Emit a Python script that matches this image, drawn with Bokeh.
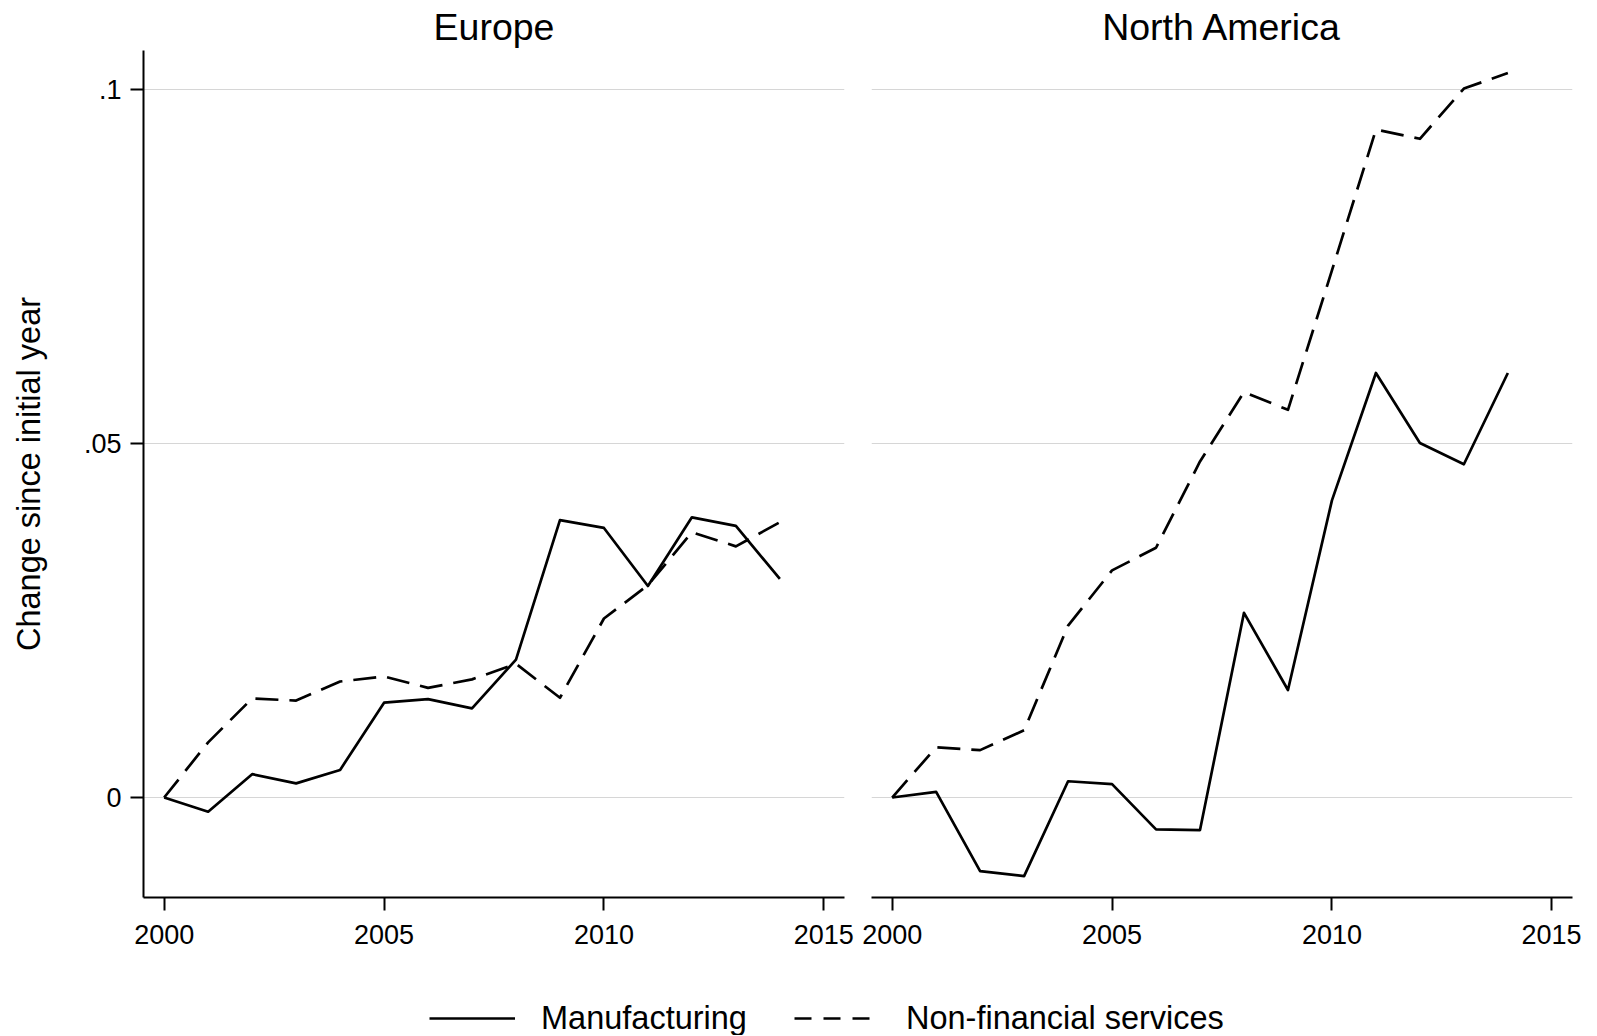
from bokeh.plotting import figure
from bokeh.models import Range1d, FixedTicker, Grid, Legend, LegendItem
from bokeh.layouts import column, row
from bokeh.embed import file_html
from bokeh.resources import INLINE

FONT = "Liberation Sans"

# ---- data ----
years = [2000, 2001, 2002, 2003, 2004, 2005, 2006, 2007,
         2008, 2009, 2010, 2011, 2012, 2013, 2014]

europe_manufacturing = [0.0, -0.0020, 0.0033, 0.0020, 0.0039, 0.0134, 0.0139, 0.0126,
                        0.0195, 0.0392, 0.0381, 0.0299, 0.0396, 0.0384, 0.0309]
europe_services = [0.0, 0.0078, 0.0140, 0.0137, 0.0164, 0.0171, 0.0155, 0.0167,
                   0.0189, 0.0141, 0.0253, 0.0300, 0.0375, 0.0355, 0.0389]
namerica_manufacturing = [0.0, 0.0008, -0.0104, -0.0111, 0.0023, 0.0019, -0.0045, -0.0046,
                          0.0261, 0.0152, 0.0420, 0.0600, 0.0501, 0.0471, 0.0600]
namerica_services = [0.0, 0.0071, 0.0067, 0.0095, 0.0243, 0.0321, 0.0353, 0.0475,
                     0.0573, 0.0548, 0.0745, 0.0944, 0.0931, 0.1002, 0.1024]

panel_titles = ["Europe", "North America"]
series_labels = ["Manufacturing", "Non-financial services"]
x_ticks = [2000, 2005, 2010, 2015]
y_ticks = [0, 0.05, 0.1]
y_tick_labels = ["0", ".05", ".1"]
y_axis_label = "Change since initial year"

X_RANGE = (1999.53, 2015.47)
Y_RANGE = (-0.01413, 0.10558)

LINE_W = 2.7
DASH = "23 11"
GRID_COLOR = "#d6d6d6"
AXIS_W = 2


def make_panel(title, manuf, serv, first):
    kw = dict(
        height=960,
        x_range=Range1d(*X_RANGE),
        y_range=Range1d(*Y_RANGE),
        output_backend="svg",
        toolbar_location=None,
        title=title,
        min_border_top=50,
        min_border_bottom=63,
    )
    if first:
        p = figure(width=857, min_border_left=143, min_border_right=13, **kw)
    else:
        p = figure(width=724, min_border_left=14, min_border_right=9,
                   y_axis_location=None, **kw)

    p.outline_line_color = None
    p.background_fill_color = "white"
    p.border_fill_color = "white"

    for g in p.grid:
        g.visible = False
    p.add_layout(Grid(dimension=1, ticker=FixedTicker(ticks=y_ticks),
                      grid_line_color=GRID_COLOR, grid_line_width=1), "center")

    # title
    p.title.align = "center"
    p.title.text_font = FONT
    p.title.text_font_size = "37.5px"
    p.title.text_font_style = "normal"
    p.title.text_color = "black"
    p.title.standoff = 5

    # x axis
    xa = p.xaxis[0]
    xa.ticker = FixedTicker(ticks=x_ticks)
    xa.axis_line_color = "black"
    xa.axis_line_width = AXIS_W
    xa.major_tick_line_color = "black"
    xa.major_tick_line_width = AXIS_W
    xa.major_tick_out = 13
    xa.major_tick_in = 0
    xa.minor_tick_out = 0
    xa.minor_tick_in = 0
    xa.major_label_text_font = FONT
    xa.major_label_text_font_size = "27px"
    xa.major_label_text_color = "black"
    xa.major_label_standoff = 14

    if first:
        ya = p.yaxis[0]
        ya.ticker = FixedTicker(ticks=y_ticks)
        ya.major_label_overrides = {t: lab for t, lab in zip(y_ticks, y_tick_labels)}
        ya.axis_line_color = "black"
        ya.axis_line_width = AXIS_W
        ya.major_tick_line_color = "black"
        ya.major_tick_line_width = AXIS_W
        ya.major_tick_out = 13
        ya.major_tick_in = 0
        ya.minor_tick_out = 0
        ya.minor_tick_in = 0
        ya.major_label_text_font = FONT
        ya.major_label_text_font_size = "27px"
        ya.major_label_text_color = "black"
        ya.major_label_standoff = 9
        ya.axis_label = y_axis_label
        ya.axis_label_text_font = FONT
        ya.axis_label_text_font_size = "32.5px"
        ya.axis_label_text_font_style = "normal"
        ya.axis_label_text_color = "black"
        ya.axis_label_standoff = 34

    p.line(years, manuf, line_color="black", line_width=LINE_W, line_join="round")
    p.line(years, serv, line_color="black", line_width=LINE_W, line_dash=DASH,
           line_join="round")
    return p


p1 = make_panel(panel_titles[0], europe_manufacturing, europe_services, True)
p2 = make_panel(panel_titles[1], namerica_manufacturing, namerica_services, False)

# ---- legend strip ----
pleg = figure(width=1581, height=75, output_backend="svg", toolbar_location=None,
              x_range=Range1d(0, 1), y_range=Range1d(0, 1),
              x_axis_location=None, y_axis_location=None,
              min_border=0)
pleg.outline_line_color = None
for g in pleg.grid:
    g.visible = False
# legend-only key renderers, placed outside the visible range
r_solid = pleg.line([5, 6], [5, 6], line_color="black", line_width=LINE_W)
r_dash = pleg.line([5, 6], [5, 6], line_color="black", line_width=LINE_W,
                   line_dash="17 12")
legend = Legend(
    items=[LegendItem(label=series_labels[0], renderers=[r_solid]),
           LegendItem(label=series_labels[1], renderers=[r_dash])],
    orientation="horizontal",
    location=(429, -2),
    glyph_width=86,
    glyph_height=38,
    label_standoff=26,
    spacing=47,
    padding=0,
    margin=0,
    border_line_color=None,
    background_fill_alpha=0,
    label_text_font=FONT,
    label_text_font_size="32.5px",
    label_text_color="black",
)
pleg.add_layout(legend, "center")

layout = column(row(p1, p2, spacing=0), pleg, spacing=0)

open("out.html", "w").write(file_html(layout, INLINE))
